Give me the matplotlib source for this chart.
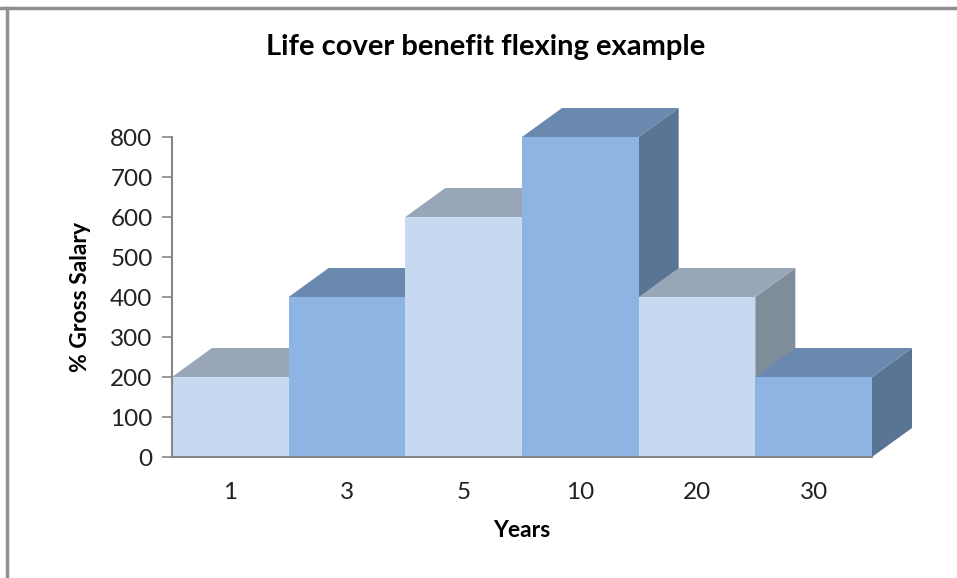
import matplotlib.pyplot as plt
from matplotlib.patches import Polygon
from matplotlib.lines import Line2D

# data
years = ["1", "3", "5", "10", "20", "30"]
gross_pct = [200, 400, 600, 800, 400, 200]

# colours: front / top / side, alternating light and dark
light = ("#C6D9F1", "#98A6B8", "#7F8D9B")
dark = ("#8DB4E2", "#6A89AF", "#5A7594")

plt.rcParams["font.family"] = ["Lato", "DejaVu Sans"]

fig = plt.figure(figsize=(9.57, 5.78), dpi=100)
W, H = 957, 578
ax = fig.add_axes([172 / W, (H - 457) / H, 700 / W, 320 / H])
ax.set_xlim(0, len(years))
ax.set_ylim(0, 800)

# depth offset in data units (40 px right, 29 px up)
dx = 40 / (700 / len(years))
dy = 29 / (320 / 800)

for i, v in enumerate(gross_pct):
    front, top, side = light if i % 2 == 0 else dark
    x0, x1 = i, i + 1
    ax.add_patch(Polygon([(x1, 0), (x1 + dx, dy), (x1 + dx, v + dy), (x1, v)],
                         closed=True, fc=side, ec="none", clip_on=False, zorder=2))
    ax.add_patch(Polygon([(x0, v), (x1, v), (x1 + dx, v + dy), (x0 + dx, v + dy)],
                         closed=True, fc=top, ec="none", clip_on=False, zorder=2))
    ax.add_patch(Polygon([(x0, 0), (x1, 0), (x1, v), (x0, v)],
                         closed=True, fc=front, ec="none", clip_on=False, zorder=2))

for s in ["top", "right"]:
    ax.spines[s].set_visible(False)
for s in ["left", "bottom"]:
    ax.spines[s].set_color("#868686")
    ax.spines[s].set_linewidth(1.5)
    ax.spines[s].set_zorder(3)

ax.set_yticks(range(0, 801, 100))
ax.set_xticks([i + 0.5 for i in range(len(years))])
ax.set_xticklabels(years)
ax.tick_params(axis="y", length=7, width=1.2, color="#868686", labelsize=17.5,
               pad=7, labelcolor="#222222")
ax.tick_params(axis="x", length=0, labelsize=17.5, pad=18, labelcolor="#222222")

ax.set_xlabel("Years", fontsize=16.5, fontweight="bold", labelpad=12)
ax.set_ylabel("% Gross Salary", fontsize=16.5, fontweight="bold", labelpad=14)

fig.text(486 / W, 1 - 47 / H, "Life cover benefit flexing example",
         ha="center", va="center", fontsize=21, fontweight="bold")

# outer frame (top and left only)
fig.add_artist(Line2D([0, 1], [1 - 8 / H, 1 - 8 / H], color="#909090", lw=2.5))
fig.add_artist(Line2D([7 / W, 7 / W], [0, 1 - 8 / H], color="#909090", lw=2.5))

fig.savefig("out.png", dpi=100)
